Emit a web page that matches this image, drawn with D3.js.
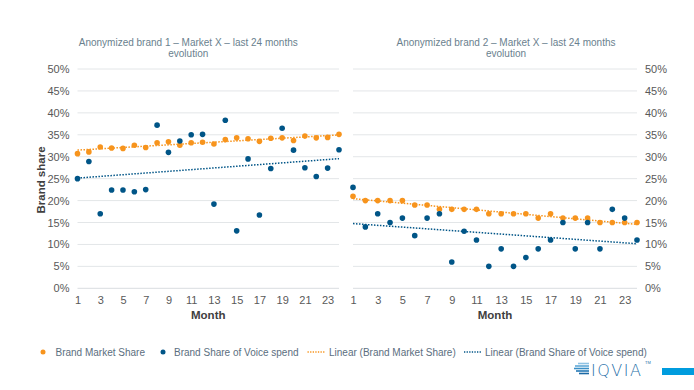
<!DOCTYPE html>
<html><head><meta charset="utf-8">
<script src="https://cdn.jsdelivr.net/npm/d3@7"></script>
<style>body{margin:0;background:#fff;font-family:"Liberation Sans",Arial,sans-serif;}</style>
</head><body><svg id="c" width="694" height="390"></svg>
<script>
const months = d3.range(1, 25);
const yTicks = [0, 5, 10, 15, 20, 25, 30, 35, 40, 45, 50];
const xTicks = [1, 3, 5, 7, 9, 11, 13, 15, 17, 19, 21, 23];
const titles = ["Anonymized brand 1 \u2013 Market X \u2013 last 24 months", "Anonymized brand 2 \u2013 Market X \u2013 last 24 months"];
const brand1Market = [30.7,31.1,32.2,32.0,31.9,32.6,32.1,33.2,33.4,32.6,33.2,33.3,32.9,33.9,34.3,34.1,33.5,34.2,34.3,33.7,34.7,34.3,34.4,35.1];
const brand1Voice  = [25.0,28.9,17.0,22.4,22.4,22.0,22.5,37.2,31.0,33.6,35.0,35.1,19.2,38.3,13.1,29.5,16.7,27.3,36.5,31.5,27.5,25.5,27.4,31.6];
const brand2Market = [21,20,20,20,20,19,19,18,18,18,18,17,17,17,17,16,17,16,16,16,15,15,15,15];
const brand2Voice  = [23,14,17,15,16,12,16,17,6,13,11,5,9,5,7,9,11,15,9,15,9,18,16,11];
const legendLabels = ["Brand Market Share","Brand Share of Voice spend","Linear (Brand Market Share)","Linear (Brand Share of Voice spend)"];

const ORANGE = "#F7941D", BLUE = "#005587", GRID = "#E3E6E8", TICK = "#595959", TITLE = "#6A7F8E", LEG = "#5B6E7E";
const svg = d3.select("#c");

function fit(ys){
  const xm = d3.mean(months), ym = d3.mean(ys);
  let num=0, den=0;
  months.forEach((x,i)=>{num+=(x-xm)*(ys[i]-ym);den+=(x-xm)*(x-xm);});
  const b=num/den, a=ym-b*xm;
  return [[1,a+b],[24,a+24*b]];
}

const panels = [
  {x0:77.5, x1:339, side:"left", market:brand1Market, voice:brand1Voice, title:titles[0]},
  {x0:353, x1:637, side:"right", market:brand2Market, voice:brand2Voice, title:titles[1]}
];
const y = d3.scaleLinear().domain([0,50]).range([288.3,69]);

panels.forEach(p=>{
  const x = d3.scaleLinear().domain([1,24]).range([p.x0,p.x1]);
  const g = svg.append("g");
  // grid
  g.selectAll("line.grid").data(yTicks).join("line")
    .attr("x1",p.x0).attr("x2",p.x1).attr("y1",d=>y(d)).attr("y2",d=>y(d))
    .attr("stroke",d=>d===0?"#D9DDE0":GRID).attr("stroke-width",1);
  // y axis labels
  const yAx = (p.side==="left"?d3.axisLeft(y):d3.axisRight(y)).tickValues(yTicks).tickFormat(d=>d+"%").tickSize(0).tickPadding(8);
  const ya = g.append("g").attr("transform",`translate(${p.side==="left"?p.x0:p.x1},0)`).call(yAx);
  ya.select(".domain").remove();
  ya.selectAll("text").attr("fill",TICK).style("font-size","11px").style("font-family","Liberation Sans, Arial, sans-serif");
  // x axis labels
  const xAx = d3.axisBottom(x).tickValues(xTicks).tickFormat(d3.format("d")).tickSize(0).tickPadding(8);
  const xa = g.append("g").attr("transform",`translate(0,${y(0)})`).call(xAx);
  xa.select(".domain").remove();
  xa.selectAll("text").attr("fill",TICK).style("font-size","11px").style("font-family","Liberation Sans, Arial, sans-serif");
  // axis title
  g.append("text").attr("x",(p.x0+p.x1)/2).attr("y",319).attr("text-anchor","middle")
    .attr("fill","#404040").style("font-size","11.5px").style("font-weight","bold").text("Month");
  // chart title
  const tx=(p.x0+p.x1)/2 - (p.side==="left"?20:-11);
  g.append("text").attr("x",tx).attr("y",46).attr("text-anchor","middle").attr("fill",TITLE).style("font-size","10px").text(p.title);
  g.append("text").attr("x",tx).attr("y",57).attr("text-anchor","middle").attr("fill",TITLE).style("font-size","10px").text("evolution");
  // trend lines
  const line = d3.line().x(d=>x(d[0])).y(d=>y(d[1]));
  g.append("path").attr("d",line(fit(p.voice))).attr("stroke",BLUE).attr("stroke-width",1.5).attr("stroke-dasharray","1.5,1.5").attr("fill","none");
  g.append("path").attr("d",line(fit(p.market))).attr("stroke",ORANGE).attr("stroke-width",1.5).attr("stroke-dasharray","1.5,1.5").attr("fill","none");
  // points
  g.selectAll("circle.m").data(p.market).join("circle").attr("cx",(d,i)=>x(months[i])).attr("cy",d=>y(d)).attr("r",2.8).attr("fill",ORANGE);
  g.selectAll("circle.v").data(p.voice).join("circle").attr("cx",(d,i)=>x(months[i])).attr("cy",d=>y(d)).attr("r",2.8).attr("fill",BLUE);
});

// y title
svg.append("text").attr("transform","translate(45,180) rotate(-90)").attr("text-anchor","middle")
  .attr("fill","#404040").style("font-size","11.5px").style("font-weight","bold").text("Brand share");

// legend
const lg = svg.append("g").style("font-size","10px");
lg.append("circle").attr("cx",43).attr("cy",352).attr("r",2.5).attr("fill",ORANGE);
lg.append("text").attr("x",55.5).attr("y",355.5).attr("fill",LEG).text(legendLabels[0]);
lg.append("circle").attr("cx",163).attr("cy",352).attr("r",2.5).attr("fill",BLUE);
lg.append("text").attr("x",174).attr("y",355.5).attr("fill",LEG).text(legendLabels[1]);
lg.append("line").attr("x1",307.5).attr("x2",325).attr("y1",352).attr("y2",352).attr("stroke",ORANGE).attr("stroke-width",1.3).attr("stroke-dasharray","1.3,1.3");
lg.append("text").attr("x",329).attr("y",355.5).attr("fill",LEG).text(legendLabels[2]);
lg.append("line").attr("x1",464).attr("x2",481).attr("y1",352).attr("y2",352).attr("stroke",BLUE).attr("stroke-width",1.3).attr("stroke-dasharray","1.3,1.3");
lg.append("text").attr("x",485).attr("y",355.5).attr("fill",LEG).text(legendLabels[3]);

// logo
const logo = svg.append("g");
const stripes = [[363.5,578,"#8FC3E3"],[366,575,"#5FA8D6"],[368.5,574,"#3A8FC7"],[371,576,"#2478B5"],[373.5,579,"#1B6AA6"]];
stripes.forEach(s=>logo.append("line").attr("x1",s[1]).attr("x2",589).attr("y1",s[0]).attr("y2",s[0]).attr("stroke",s[2]).attr("stroke-width",1.6));
logo.append("text").attr("x",591).attr("y",375.5).attr("fill","#1F6FA8").style("font-size","16px").style("font-weight","300").style("letter-spacing","1.5px").style("font-family","DejaVu Sans, sans-serif").text("IQVIA");
logo.append("text").attr("x",645).attr("y",364).attr("fill","#1F6FA8").style("font-size","4px").text("TM");
logo.append("rect").attr("x",662).attr("y",368).attr("width",32).attr("height",7).attr("fill","#009CDE");
</script></body></html>
